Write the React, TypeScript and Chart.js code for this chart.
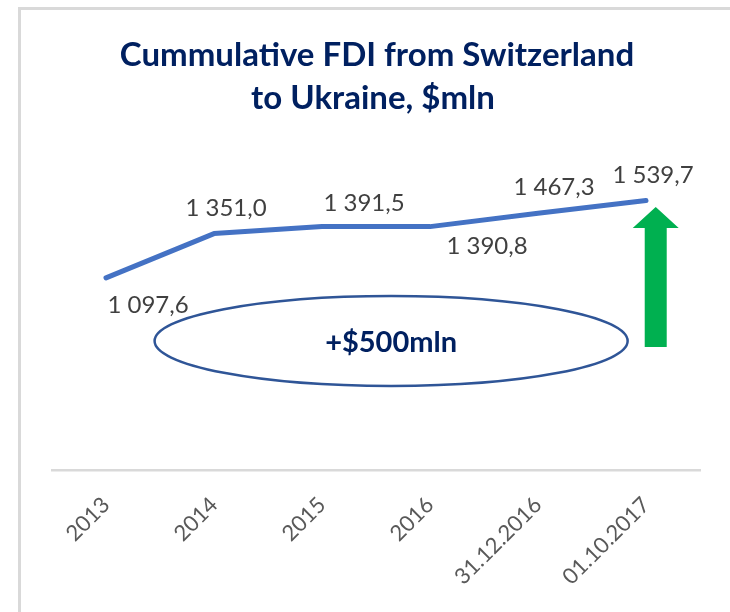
import React, { useEffect, useRef } from "react";
import { Chart, registerables } from "chart.js";

Chart.register(...registerables);

const categories = ["2013", "2014", "2015", "2016", "31.12.2016", "01.10.2017"];
const fdiValues = [1097.6, 1351.0, 1391.5, 1390.8, 1467.3, 1539.7];
const valueLabels = ["1 097,6", "1 351,0", "1 391,5", "1 390,8", "1 467,3", "1 539,7"];
const titleLines = ["Cummulative FDI from Switzerland", "to Ukraine, $mln"];
const calloutText = "+$500mln";

// label placement (pixel offsets from each point)
const labelOffsets: [number, number][] = [
  [42, 27],
  [12, -25],
  [42, -23],
  [57, 20],
  [16, -26],
  [7, -25],
];

// annotation geometry in scale units
const ellipseBox = { fromIndex: 0.45, toIndex: 4.83, low: 480, high: 994 };
const arrowGeom = { index: 5.09, top: 1503, headBase: 1383, bottom: 703, shaft: 22, head: 46 };

const NAVY = "#002060";
const FONT = "Lato, 'Open Sans', sans-serif";

const decorPlugin = {
  id: "decor",
  beforeDraw(chart: any) {
    const ctx = chart.ctx;
    ctx.save();
    ctx.fillStyle = "#ffffff";
    ctx.fillRect(0, 0, chart.width, chart.height);
    ctx.fillStyle = "#d9d9d9";
    ctx.fillRect(18, 7, chart.width - 18, 3);
    ctx.fillRect(18, 7, 3, chart.height - 7);
    // title
    ctx.fillStyle = NAVY;
    ctx.font = `bold 33px ${FONT}`;
    ctx.textAlign = "center";
    ctx.textBaseline = "alphabetic";
    ctx.fillText(titleLines[0], 377, 66);
    ctx.fillText(titleLines[1], 373, 109);
    ctx.restore();
  },
  afterDatasetsDraw(chart: any) {
    const ctx = chart.ctx;
    const xs = chart.scales.x;
    const ys = chart.scales.y;
    const meta = chart.getDatasetMeta(0);
    ctx.save();
    // value labels
    ctx.font = `24px ${FONT}`;
    ctx.fillStyle = "#404040";
    ctx.textAlign = "center";
    ctx.textBaseline = "middle";
    meta.data.forEach((pt: any, i: number) => {
      const [dx, dy] = labelOffsets[i];
      ctx.fillText(valueLabels[i], pt.x + dx, pt.y + dy);
    });
    // ellipse
    const x1 = xs.getPixelForValue(ellipseBox.fromIndex);
    const x2 = xs.getPixelForValue(ellipseBox.toIndex);
    const y1 = ys.getPixelForValue(ellipseBox.high);
    const y2 = ys.getPixelForValue(ellipseBox.low);
    const cx = (x1 + x2) / 2;
    const cy = (y1 + y2) / 2;
    ctx.beginPath();
    ctx.ellipse(cx, cy, (x2 - x1) / 2, (y2 - y1) / 2, 0, 0, Math.PI * 2);
    ctx.strokeStyle = "#2F5597";
    ctx.lineWidth = 2.5;
    ctx.stroke();
    ctx.fillStyle = NAVY;
    ctx.font = `bold 29px ${FONT}`;
    ctx.fillText(calloutText, cx, cy + 2);
    // arrow
    const ax = xs.getPixelForValue(arrowGeom.index);
    const at = ys.getPixelForValue(arrowGeom.top);
    const ahb = ys.getPixelForValue(arrowGeom.headBase);
    const ab = ys.getPixelForValue(arrowGeom.bottom);
    ctx.beginPath();
    ctx.moveTo(ax, at);
    ctx.lineTo(ax + arrowGeom.head / 2, ahb);
    ctx.lineTo(ax + arrowGeom.shaft / 2, ahb);
    ctx.lineTo(ax + arrowGeom.shaft / 2, ab);
    ctx.lineTo(ax - arrowGeom.shaft / 2, ab);
    ctx.lineTo(ax - arrowGeom.shaft / 2, ahb);
    ctx.lineTo(ax - arrowGeom.head / 2, ahb);
    ctx.closePath();
    ctx.fillStyle = "#00B050";
    ctx.fill();
    ctx.restore();
  },
};

export default function App() {
  const ref = useRef<HTMLCanvasElement | null>(null);
  useEffect(() => {
    if (!ref.current) return;
    const chart = new Chart(ref.current, {
      type: "line",
      data: {
        labels: categories,
        datasets: [
          {
            data: fdiValues,
            borderColor: "#4472C4",
            borderWidth: 5,
            pointRadius: 0,
            pointHoverRadius: 0,
            tension: 0,
            fill: false,
            borderCapStyle: "round",
            borderJoinStyle: "round",
          },
        ],
      },
      options: {
        responsive: false,
        animation: false,
        events: [],
        layout: { padding: { left: 52, right: 30, top: 120, bottom: 0 } },
        plugins: { legend: { display: false }, title: { display: false }, tooltip: { enabled: false } },
        scales: {
          x: {
            type: "category",
            offset: true,
            grid: { display: false, drawTicks: false },
            border: { display: true, color: "#d9d9d9", width: 2.5 },
            ticks: {
              autoSkip: false,
              maxRotation: 45,
              minRotation: 45,
              padding: 22,
              color: "#595959",
              font: { family: FONT, size: 22 },
            },
            afterFit: (scale: any) => {
              scale.height = 142;
            },
          },
          y: { display: false, min: 0, max: 2000 },
        },
      },
      plugins: [decorPlugin],
    } as any);
    return () => chart.destroy();
  }, []);
  return (
    <div style={{ position: "fixed", left: 0, top: 0, width: 730, height: 612, background: "#fff" }}>
      <canvas ref={ref} width={730} height={612} style={{ display: "block" }} />
    </div>
  );
}
